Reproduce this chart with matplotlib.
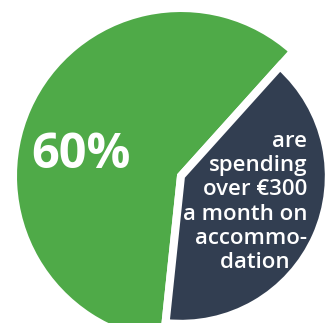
import matplotlib
matplotlib.use("Agg")
import matplotlib.pyplot as plt

# Share of students by monthly accommodation spend
labels = ["over €300", "€300 or less"]
shares = [60, 40]
colors = ["#4FAA48", "#323E51"]
headline = "60%"
caption_lines = ["are", "spending", "over €300", "a month on", "accommo-",
                 "dation\u00a0\u00a0\u00a0"]

W, H = 329, 323
DPI = 100
SCALE = 168.0          # pixels per data unit
CX, CY = 181.0, 176.0  # pie centre in pixels (from top-left)


def px(x, y):
    """Pixel position (from top-left) to data coordinates."""
    return (x - CX) / SCALE, (CY - y) / SCALE


fig = plt.figure(figsize=(W / DPI, H / DPI), dpi=DPI)
ax = fig.add_axes([0, 0, 1, 1])

wedges, _ = ax.pie(
    shares,
    colors=colors,
    startangle=48,
    counterclock=True,
    radius=1.0,
    wedgeprops=dict(edgecolor="white", linewidth=5.8, joinstyle="miter"),
)
# the smaller slice is drawn with a slightly smaller radius
wedges[1].set_radius(0.88)

x0, y1 = px(0, 0)
x1, y0 = px(W, H)
ax.set_xlim(x0, x1)
ax.set_ylim(y0, y1)
ax.set_aspect("auto")
ax.axis("off")

font = ["Open Sans", "DejaVu Sans"]

tx, ty = px(81, 155)
ax.text(tx, ty, headline, color="white", fontsize=35, fontweight="bold",
        family=font, ha="center", va="center")

cx_, cy_ = px(307, 131)
ax.text(cx_, cy_, "\n".join(caption_lines), color="white", fontsize=16,
        fontweight="semibold", family=font, ha="right", va="top",
        multialignment="right", linespacing=1.2)

fig.savefig("out.png", dpi=DPI)
